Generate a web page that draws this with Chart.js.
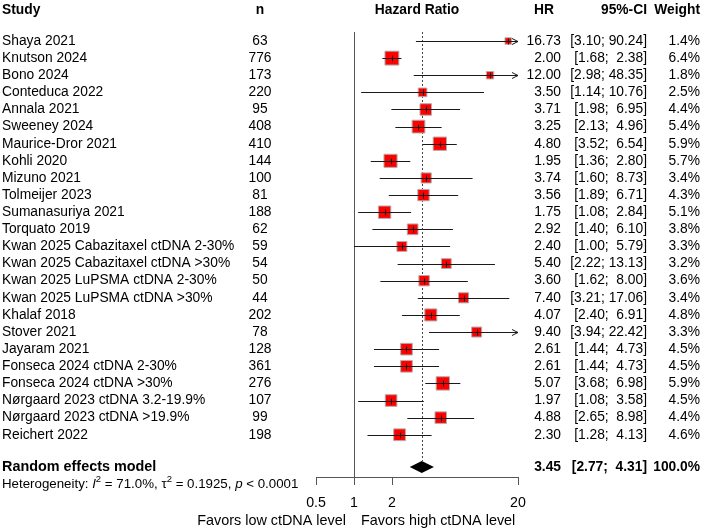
<!DOCTYPE html>
<html>
<head>
<meta charset="utf-8">
<script src="https://cdn.jsdelivr.net/npm/chart.js@4.4.1/dist/chart.umd.min.js"></script>
<style>
  html, body { margin: 0; padding: 0; background: #fff; }
  canvas { display: block; }
</style>
</head>
<body>
<canvas id="forestChart" width="703" height="529"></canvas>
<script>
/* ================= DATA ================= */
const studies = [
  "Shaya 2021", "Knutson 2024", "Bono 2024", "Conteduca 2022", "Annala 2021",
  "Sweeney 2024", "Maurice-Dror 2021", "Kohli 2020", "Mizuno 2021", "Tolmeijer 2023",
  "Sumanasuriya 2021", "Torquato 2019", "Kwan 2025 Cabazitaxel ctDNA 2-30%",
  "Kwan 2025 Cabazitaxel ctDNA >30%", "Kwan 2025 LuPSMA ctDNA 2-30%",
  "Kwan 2025 LuPSMA ctDNA >30%", "Khalaf 2018", "Stover 2021", "Jayaram 2021",
  "Fonseca 2024 ctDNA 2-30%", "Fonseca 2024 ctDNA >30%",
  "Nørgaard 2023 ctDNA 3.2-19.9%", "Nørgaard 2023 ctDNA >19.9%", "Reichert 2022"
];
const nPatients = [63, 776, 173, 220, 95, 408, 410, 144, 100, 81, 188, 62, 59, 54, 50, 44, 202, 78, 128, 361, 276, 107, 99, 198];
const hr      = [16.73, 2.00, 12.00, 3.50, 3.71, 3.25, 4.80, 1.95, 3.74, 3.56, 1.75, 2.92, 2.40, 5.40, 3.60, 7.40, 4.07, 9.40, 2.61, 2.61, 5.07, 1.97, 4.88, 2.30];
const ciLow   = [3.10, 1.68, 2.98, 1.14, 1.98, 2.13, 3.52, 1.36, 1.60, 1.89, 1.08, 1.40, 1.00, 2.22, 1.62, 3.21, 2.40, 3.94, 1.44, 1.44, 3.68, 1.08, 2.65, 1.28];
const ciHigh  = [90.24, 2.38, 48.35, 10.76, 6.95, 4.96, 6.54, 2.80, 8.73, 6.71, 2.84, 6.10, 5.79, 13.13, 8.00, 17.06, 6.91, 22.42, 4.73, 4.73, 6.98, 3.58, 8.98, 4.13];
const weights = [1.4, 6.4, 1.8, 2.5, 4.4, 5.4, 5.9, 5.7, 3.4, 4.3, 5.1, 3.8, 3.3, 3.2, 3.6, 3.4, 4.8, 3.3, 4.5, 4.5, 5.9, 4.5, 4.4, 4.6];

const summaryLabel = "Random effects model";
const summaryHR = 3.45, summaryLow = 2.77, summaryHigh = 4.31, summaryWeight = 100.0;
const xTicks = [0.5, 1, 2, 20];

/* ================= LAYOUT ================= */
const W = 703, H = 529;
const FONT = '"Liberation Sans", Arial, sans-serif';
const FS = 13.8;
const Y0 = 41, ROW_H = 17.12, YMIN = -1, YMAX = 25.5;
const SUMMARY_ROW = 24.88;
const AXIS_Y = 477;
const COL_STUDY = 2, COL_N = 260, COL_HR = 561, COL_CI = 647, COL_W = 700;

function fmtCI(lo, hi) {
  return "[" + lo.toFixed(2) + "; " + hi.toFixed(2).padStart(5, " ") + "]";
}

function txt(ctx, s, x, y, align, bold, size) {
  ctx.font = (bold ? "bold " : "") + (size || FS) + "px " + FONT;
  ctx.textAlign = align;
  ctx.fillText(s, x, y);
}

/* ================= PLUGIN ================= */
const forestPlugin = {
  id: "forest",
  beforeDatasetsDraw(chart) {
    const { ctx, scales: { x } } = chart;
    ctx.save();
    // line of no effect
    const x1 = Math.round(x.getPixelForValue(1)) + 0.5;
    ctx.strokeStyle = "#555";
    ctx.lineWidth = 1;
    ctx.beginPath();
    ctx.moveTo(x1, 32);
    ctx.lineTo(x1, AXIS_Y);
    ctx.stroke();
    // summary dotted line
    const xs = Math.round(x.getPixelForValue(summaryHR)) + 0.5;
    ctx.setLineDash([2, 2]);
    ctx.strokeStyle = "#444";
    ctx.beginPath();
    ctx.moveTo(xs, 32);
    ctx.lineTo(xs, chart.scales.y.getPixelForValue(SUMMARY_ROW) - 6);
    ctx.stroke();
    ctx.restore();
  },
  afterDatasetsDraw(chart) {
    const { ctx, scales: { x, y } } = chart;
    const left = x.getPixelForValue(0.5), right = x.getPixelForValue(20);
    ctx.save();
    ctx.strokeStyle = "#1a1a1a";
    ctx.lineWidth = 1;

    // confidence intervals
    hr.forEach((v, i) => {
      const py = Math.round(y.getPixelForValue(i)) + 0.5;
      let a = x.getPixelForValue(ciLow[i]);
      let b = x.getPixelForValue(ciHigh[i]);
      const arrowR = b > right, arrowL = a < left;
      a = Math.max(a, left); b = Math.min(b, right);
      ctx.beginPath();
      ctx.moveTo(a, py);
      ctx.lineTo(b, py);
      if (arrowR) {
        ctx.moveTo(b - 6, py - 3);
        ctx.lineTo(b, py);
        ctx.lineTo(b - 6, py + 3);
      }
      if (arrowL) {
        ctx.moveTo(a + 6, py - 3);
        ctx.lineTo(a, py);
        ctx.lineTo(a + 6, py + 3);
      }
      const pc = Math.round(x.getPixelForValue(v)) + 0.5;
      ctx.moveTo(pc, py - 3);
      ctx.lineTo(pc, py + 3);
      ctx.stroke();
    });

    // summary diamond
    const sy = y.getPixelForValue(SUMMARY_ROW);
    ctx.fillStyle = "#000";
    ctx.beginPath();
    ctx.moveTo(x.getPixelForValue(summaryLow), sy);
    ctx.lineTo(x.getPixelForValue(summaryHR), sy - 6);
    ctx.lineTo(x.getPixelForValue(summaryHigh), sy);
    ctx.lineTo(x.getPixelForValue(summaryHR), sy + 6);
    ctx.closePath();
    ctx.fill();

    // x axis
    ctx.strokeStyle = "#555";
    ctx.beginPath();
    ctx.moveTo(left, AXIS_Y + 0.5);
    ctx.lineTo(right, AXIS_Y + 0.5);
    xTicks.forEach(t => {
      const tx = Math.round(x.getPixelForValue(t)) + 0.5;
      ctx.moveTo(tx, AXIS_Y);
      ctx.lineTo(tx, AXIS_Y + 8);
    });
    ctx.stroke();

    ctx.fillStyle = "#000";
    ctx.textBaseline = "middle";
    xTicks.forEach(t => txt(ctx, String(t), x.getPixelForValue(t), 503, "center", false, 14.2));
    const x1 = x.getPixelForValue(1);
    txt(ctx, "Favors low ctDNA level", x1 - 8, 521, "right", false, 14.4);
    txt(ctx, "Favors high ctDNA level", x1 + 7, 521, "left", false, 14.4);

    // headers
    txt(ctx, "Study", COL_STUDY, 10, "left", true);
    txt(ctx, "n", COL_N, 10, "center", true);
    txt(ctx, "Hazard Ratio", (left + right) / 2, 10, "center", true);
    txt(ctx, "HR", COL_HR - 17, 10, "center", true);
    txt(ctx, "95%-CI", COL_CI, 10, "right", true);
    txt(ctx, "Weight", COL_W, 10, "right", true);

    // study rows
    studies.forEach((s, i) => {
      const py = y.getPixelForValue(i);
      txt(ctx, s, COL_STUDY, py, "left", false);
      txt(ctx, String(nPatients[i]), COL_N, py, "center", false);
      txt(ctx, hr[i].toFixed(2), COL_HR, py, "right", false);
      txt(ctx, fmtCI(ciLow[i], ciHigh[i]), COL_CI, py, "right", false);
      txt(ctx, weights[i].toFixed(1) + "%", COL_W, py, "right", false);
    });

    // summary row
    txt(ctx, summaryLabel, COL_STUDY, sy, "left", true, 14.4);
    txt(ctx, summaryHR.toFixed(2), COL_HR, sy, "right", true);
    txt(ctx, fmtCI(summaryLow, summaryHigh), COL_CI, sy, "right", true);
    txt(ctx, summaryWeight.toFixed(1) + "%", COL_W, sy, "right", true);

    // heterogeneity line
    const hy = 484;
    let cx = COL_STUDY;
    const piece = (s, style, size, dy) => {
      ctx.font = style + size + "px " + FONT;
      ctx.textAlign = "left";
      ctx.fillText(s, cx, hy + dy);
      cx += ctx.measureText(s).width;
    };
    const hs = 13.3;
    piece("Heterogeneity: ", "", hs, 0);
    piece("I", "italic ", hs, 0);
    piece("2", "", 9.5, -5);
    piece(" = 71.0%, \u03c4", "", hs, 0);
    piece("2", "", 9.5, -5);
    piece(" = 0.1925, ", "", hs, 0);
    piece("p", "italic ", hs, 0);
    piece(" < 0.0001", "", hs, 0);

    ctx.restore();
  }
};

/* ================= CHART ================= */
new Chart(document.getElementById("forestChart"), {
  type: "scatter",
  data: {
    datasets: [{
      data: hr.map((v, i) => ({ x: v, y: i })),
      pointStyle: "rect",
      pointRadius: weights.map(w => 5.5 * Math.sqrt(w) / Math.SQRT2),
      pointHoverRadius: weights.map(w => 5.5 * Math.sqrt(w) / Math.SQRT2),
      backgroundColor: "#ff0000",
      borderColor: "#b0b0b0",
      borderWidth: 1,
      clip: false
    }]
  },
  options: {
    responsive: false,
    animation: false,
    devicePixelRatio: 1,
    layout: {
      padding: {
        left: 316,
        right: W - 518,
        top: Y0 + YMIN * ROW_H,
        bottom: H - (Y0 + YMAX * ROW_H)
      }
    },
    plugins: { legend: { display: false }, tooltip: { enabled: false } },
    scales: {
      x: { type: "logarithmic", min: 0.5, max: 20, display: false },
      y: { type: "linear", min: YMIN, max: YMAX, reverse: true, display: false }
    }
  },
  plugins: [forestPlugin]
});
</script>
</body>
</html>
